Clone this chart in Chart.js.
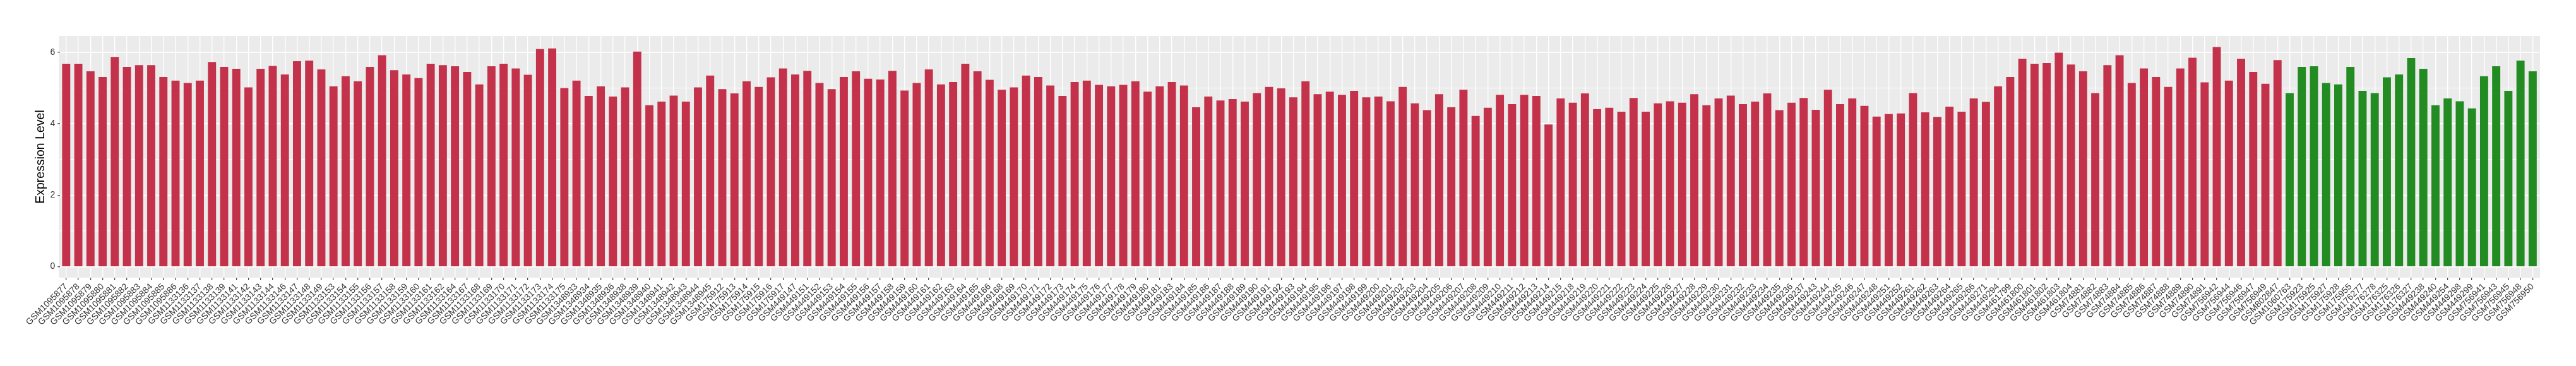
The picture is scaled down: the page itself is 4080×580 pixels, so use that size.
<!DOCTYPE html>
<html>
<head>
<meta charset="utf-8">
<script src="https://cdn.jsdelivr.net/npm/chart.js@4.4.1/dist/chart.umd.min.js"></script>
<style>
  html, body { margin: 0; padding: 0; background: #ffffff; }
  #wrap { width: 4080px; height: 580px; }
</style>
</head>
<body>
<div id="wrap"><canvas id="exprChart" width="4080" height="580"></canvas></div>
<script>
// --- Tumor samples (red bars)
const tumorLabels = [
    'GSM1095877', 'GSM1095878', 'GSM1095879', 'GSM1095880', 'GSM1095881', 'GSM1095882', 'GSM1095883',
    'GSM1095884', 'GSM1095885', 'GSM1095886', 'GSM1133136', 'GSM1133137', 'GSM1133138', 'GSM1133139',
    'GSM1133141', 'GSM1133142', 'GSM1133143', 'GSM1133144', 'GSM1133146', 'GSM1133147', 'GSM1133148',
    'GSM1133149', 'GSM1133153', 'GSM1133154', 'GSM1133155', 'GSM1133156', 'GSM1133157', 'GSM1133158',
    'GSM1133159', 'GSM1133160', 'GSM1133161', 'GSM1133162', 'GSM1133164', 'GSM1133167', 'GSM1133168',
    'GSM1133169', 'GSM1133170', 'GSM1133171', 'GSM1133172', 'GSM1133173', 'GSM1133174', 'GSM1133175',
    'GSM1348933', 'GSM1348934', 'GSM1348935', 'GSM1348936', 'GSM1348938', 'GSM1348939', 'GSM1348940',
    'GSM1348941', 'GSM1348942', 'GSM1348943', 'GSM1348944', 'GSM1348945', 'GSM175912', 'GSM175913',
    'GSM175914', 'GSM175915', 'GSM175916', 'GSM175917', 'GSM449147', 'GSM449151', 'GSM449152',
    'GSM449153', 'GSM449154', 'GSM449155', 'GSM449156', 'GSM449157', 'GSM449158', 'GSM449159',
    'GSM449160', 'GSM449161', 'GSM449162', 'GSM449163', 'GSM449164', 'GSM449165', 'GSM449166',
    'GSM449168', 'GSM449169', 'GSM449170', 'GSM449171', 'GSM449172', 'GSM449173', 'GSM449174',
    'GSM449175', 'GSM449176', 'GSM449177', 'GSM449178', 'GSM449179', 'GSM449180', 'GSM449181',
    'GSM449183', 'GSM449184', 'GSM449185', 'GSM449186', 'GSM449187', 'GSM449188', 'GSM449189',
    'GSM449190', 'GSM449191', 'GSM449192', 'GSM449193', 'GSM449194', 'GSM449195', 'GSM449196',
    'GSM449197', 'GSM449198', 'GSM449199', 'GSM449200', 'GSM449201', 'GSM449202', 'GSM449203',
    'GSM449204', 'GSM449205', 'GSM449206', 'GSM449207', 'GSM449208', 'GSM449209', 'GSM449210',
    'GSM449211', 'GSM449212', 'GSM449213', 'GSM449214', 'GSM449215', 'GSM449218', 'GSM449219',
    'GSM449220', 'GSM449221', 'GSM449222', 'GSM449223', 'GSM449224', 'GSM449225', 'GSM449226',
    'GSM449227', 'GSM449228', 'GSM449229', 'GSM449230', 'GSM449231', 'GSM449232', 'GSM449233',
    'GSM449234', 'GSM449235', 'GSM449236', 'GSM449237', 'GSM449243', 'GSM449244', 'GSM449245',
    'GSM449246', 'GSM449247', 'GSM449248', 'GSM449251', 'GSM449252', 'GSM449261', 'GSM449262',
    'GSM449263', 'GSM449264', 'GSM449265', 'GSM449266', 'GSM449271', 'GSM449294', 'GSM461799',
    'GSM461800', 'GSM461801', 'GSM461802', 'GSM461803', 'GSM461804', 'GSM74881', 'GSM74882',
    'GSM74883', 'GSM74884', 'GSM74885', 'GSM74886', 'GSM74887', 'GSM74888', 'GSM74889',
    'GSM74890', 'GSM74891', 'GSM756942', 'GSM756944', 'GSM756946', 'GSM756947', 'GSM756949',
    'GSM802847'
];
const tumorValues = [
    5.68, 5.68, 5.47, 5.31, 5.87, 5.59, 5.64, 5.64, 5.31, 5.21, 5.14, 5.21, 5.73, 5.59,
    5.54, 5.02, 5.54, 5.62, 5.38, 5.75, 5.77, 5.52, 5.05, 5.33, 5.19, 5.59, 5.92, 5.50,
    5.38, 5.28, 5.68, 5.64, 5.61, 5.45, 5.10, 5.61, 5.68, 5.55, 5.37, 6.09, 6.11, 5.00,
    5.21, 4.78, 5.05, 4.76, 5.02, 6.02, 4.52, 4.62, 4.79, 4.62, 5.02, 5.35, 4.97, 4.85,
    5.19, 5.03, 5.30, 5.55, 5.38, 5.48, 5.14, 4.97, 5.31, 5.47, 5.26, 5.24, 5.48, 4.93,
    5.14, 5.52, 5.10, 5.17, 5.68, 5.47, 5.23, 4.95, 5.02, 5.35, 5.31, 5.07, 4.78, 5.17,
    5.21, 5.09, 5.05, 5.09, 5.19, 4.90, 5.05, 5.17, 5.07, 4.46, 4.76, 4.65, 4.69, 4.62,
    4.86, 5.03, 4.99, 4.74, 5.19, 4.83, 4.90, 4.81, 4.92, 4.74, 4.76, 4.63, 5.03, 4.57,
    4.38, 4.83, 4.46, 4.95, 4.22, 4.45, 4.81, 4.55, 4.81, 4.78, 3.98, 4.71, 4.59, 4.85,
    4.41, 4.45, 4.34, 4.72, 4.34, 4.57, 4.63, 4.59, 4.83, 4.52, 4.71, 4.79, 4.55, 4.62,
    4.85, 4.38, 4.59, 4.72, 4.39, 4.95, 4.55, 4.71, 4.50, 4.20, 4.27, 4.29, 4.86, 4.32,
    4.19, 4.48, 4.34, 4.71, 4.61, 5.05, 5.31, 5.82, 5.68, 5.70, 5.99, 5.66, 5.47, 4.86,
    5.64, 5.92, 5.14, 5.55, 5.31, 5.03, 5.55, 5.85, 5.16, 6.15, 5.21, 5.82, 5.45, 5.12,
    5.78
];

// --- Normal samples (green bars)
const normalLabels = [
    'GSM1060763', 'GSM175923', 'GSM175925', 'GSM175927', 'GSM175928', 'GSM175955', 'GSM176277',
    'GSM176278', 'GSM176325', 'GSM176326', 'GSM176327', 'GSM449238', 'GSM449240', 'GSM449254',
    'GSM449298', 'GSM449299', 'GSM756941', 'GSM756943', 'GSM756945', 'GSM756948', 'GSM756950'
];
const normalValues = [
    4.86, 5.59, 5.61, 5.14, 5.10, 5.59, 4.92, 4.86, 5.30, 5.38, 5.84, 5.54, 4.52, 4.71,
    4.63, 4.43, 5.33, 5.61, 4.92, 5.77, 5.47
];

const yMajorTicks = [0, 2, 4, 6];
const yMinorTicks = [1, 3, 5];

const tumorColor = '#C3324A';
const normalColor = '#228B22';

const allLabels = tumorLabels.concat(normalLabels);
const allValues = tumorValues.concat(normalValues);
const barColors = tumorValues.map(() => tumorColor).concat(normalValues.map(() => normalColor));

// ggplot-like 5% expansion of the y range
const dataMax = Math.max(...allValues);
const yPad = dataMax * 0.05;

// grey panel, drawn a bit wider than the chart area (discrete axis expansion)
const panelBg = {
    id: 'panelBg',
    beforeDraw(chart) {
        const { ctx, chartArea } = chart;
        const slot = chartArea.width / allLabels.length;
        const ext = slot * 0.1;
        const left = chartArea.left - ext;
        const right = chartArea.right + ext;
        ctx.save();
        ctx.fillStyle = '#EBEBEB';
        ctx.fillRect(left, chartArea.top, right - left, chartArea.bottom - chartArea.top);
        const yScale = chart.scales.y;
        ctx.strokeStyle = '#FFFFFF';
        yMinorTicks.forEach(v => {
            const py = yScale.getPixelForValue(v);
            ctx.lineWidth = 0.7;
            ctx.beginPath(); ctx.moveTo(left, py); ctx.lineTo(right, py); ctx.stroke();
        });
        yMajorTicks.forEach(v => {
            const py = yScale.getPixelForValue(v);
            ctx.lineWidth = 1.4;
            ctx.beginPath(); ctx.moveTo(left, py); ctx.lineTo(right, py); ctx.stroke();
        });
        ctx.restore();
    }
};

Chart.defaults.font.family = "'Liberation Sans', Arial, sans-serif";

new Chart(document.getElementById('exprChart'), {
    type: 'bar',
    data: {
        labels: allLabels,
        datasets: [{
            label: 'Expression Level',
            data: allValues,
            backgroundColor: barColors,
            borderWidth: 0,
            categoryPercentage: 1.0,
            barPercentage: 0.67
        }]
    },
    options: {
        responsive: false,
        devicePixelRatio: 1,
        animation: false,
        layout: { padding: { top: 57, right: 59, left: 0, bottom: 0 } },
        plugins: {
            legend: { display: false },
            tooltip: { enabled: false }
        },
        scales: {
            x: {
                offset: true,
                border: { display: false },
                grid: {
                    offset: false,
                    color: '#FFFFFF',
                    lineWidth: 1.4,
                    tickColor: '#333333',
                    tickWidth: 1.1,
                    tickLength: 4
                },
                ticks: {
                    autoSkip: false,
                    maxRotation: 45,
                    minRotation: 45,
                    padding: 2,
                    color: '#333333',
                    font: { size: 14 }
                },
                afterFit: scale => { scale.height = 140; }
            },
            y: {
                min: -yPad,
                max: dataMax + yPad,
                border: { display: false },
                afterBuildTicks: scale => {
                    scale.ticks = yMajorTicks.concat(yMinorTicks)
                        .sort((a, b) => a - b)
                        .map(v => ({ value: v }));
                },
                grid: {
                    color: '#FFFFFF',
                    lineWidth: c => (yMajorTicks.includes(c.tick.value) ? 1.4 : 0.7),
                    tickColor: c => (yMajorTicks.includes(c.tick.value) ? '#333333' : 'rgba(0,0,0,0)'),
                    tickWidth: 1.1,
                    tickLength: 4
                },
                ticks: {
                    padding: 4,
                    color: '#333333',
                    font: { size: 14 },
                    callback: v => (yMajorTicks.includes(v) ? String(v) : '')
                },
                title: {
                    display: true,
                    text: 'Expression Level',
                    color: '#000000',
                    font: { size: 19.5 },
                    padding: { top: 53, bottom: 0 }
                },
                afterFit: scale => { scale.width = 95.2; }
            }
        }
    },
    plugins: [panelBg]
});
</script>
</body>
</html>
